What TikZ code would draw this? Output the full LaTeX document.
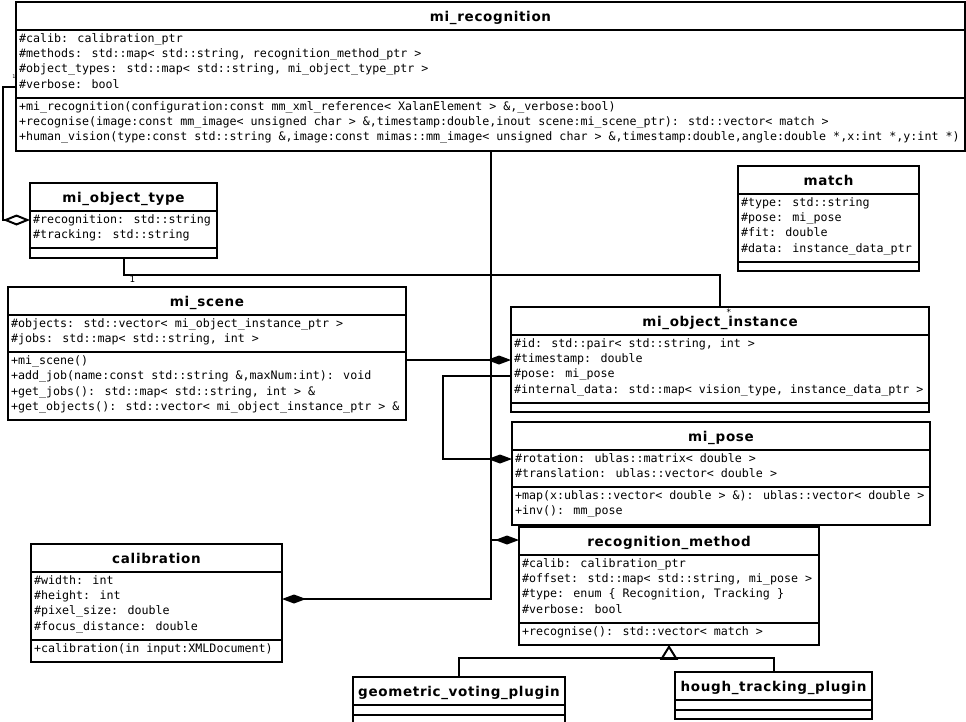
\documentclass[tikz,border=0pt]{standalone}
\usepackage{fontspec}
\usepackage{tikz}
\usetikzlibrary{shapes.multipart, arrows.meta, positioning}

\newfontfamily\umlbody{DejaVu Sans Mono}
\newfontfamily\umltitle[LetterSpace=5]{DejaVu Sans}
\newcommand{\ttl}[1]{{\fontsize{13.5bp}{16bp}\umltitle\bfseries\rule[-4bp]{0pt}{18.5bp}\smash{#1}}}
\newcommand{\rw}[1]{\makebox[0pt][l]{\rule[-5bp]{0pt}{12.5bp}\smash{#1}}}
\newcommand{\nix}{\rule{0pt}{0.01bp}}

\tikzset{
    umlclass/.style={rectangle split, rectangle split parts=3, draw, fill=white,
        line width=2bp, outer sep=0pt, anchor=north west,
        rectangle split part align={center,left,left}, align=left,
        inner xsep=3bp, inner ysep=3.75bp,
        rectangle split empty part height=0pt, rectangle split empty part depth=0pt,
        rectangle split empty part width=0pt,
        font=\fontsize{11.66bp}{15.3bp}\umlbody},
    comp/.style={line width=2bp, -{Diamond[length=24bp,width=9bp]}},
    agg/.style={line width=2bp, -{Diamond[open,length=27bp,width=11bp]}},
    gen/.style={line width=2bp, -{Triangle[open,length=15bp,width=18bp]}},
    mult/.style={font=\fontsize{9bp}{9bp}\umlbody, inner sep=1bp},
    tinymult/.style={font=\fontsize{5bp}{5bp}\umlbody, inner sep=0pt}
}

\begin{document}
\begin{tikzpicture}[x=1bp, y=-1bp]
    \fill[white] (0,0) rectangle (966,722);
    \useasboundingbox (0,0) rectangle (966,722);

    \node[umlclass, minimum width=949bp] (recog) at (16,2) {\ttl{mi\_recognition}
        \nodepart{second}
        \rw{\#calib: calibration\_ptr}\\
        \rw{\#methods: std::map< std::string, recognition\_method\_ptr >}\\
        \rw{\#object\_types: std::map< std::string, mi\_object\_type\_ptr >}\\
        \rw{\#verbose: bool}
        \nodepart{third}
        \rw{+mi\_recognition(configuration:const mm\_xml\_reference< XalanElement > \&,\_verbose:bool)}\\
        \rw{+recognise(image:const mm\_image< unsigned char > \&,timestamp:double,inout scene:mi\_scene\_ptr): std::vector< match >}\\
        \rw{+human\_vision(type:const std::string \&,image:const mimas::mm\_image< unsigned char > \&,timestamp:double,angle:double *,x:int *,y:int *)}};
    \node[umlclass, minimum width=187bp] (otype) at (30,183) {\ttl{mi\_object\_type}
        \nodepart{second}
        \rw{\#recognition: std::string}\\
        \rw{\#tracking: std::string}
        \nodepart{third}\nix};
    \node[umlclass, minimum width=181bp] (match) at (738,166) {\ttl{match}
        \nodepart{second}
        \rw{\#type: std::string}\\
        \rw{\#pose: mi\_pose}\\
        \rw{\#fit: double}\\
        \rw{\#data: instance\_data\_ptr}
        \nodepart{third}\nix};
    \node[umlclass, minimum width=398bp] (scene) at (8,287) {\ttl{mi\_scene}
        \nodepart{second}
        \rw{\#objects: std::vector< mi\_object\_instance\_ptr >}\\
        \rw{\#jobs: std::map< std::string, int >}
        \nodepart{third}
        \rw{+mi\_scene()}\\
        \rw{+add\_job(name:const std::string \&,maxNum:int): void}\\
        \rw{+get\_jobs(): std::map< std::string, int > \&}\\
        \rw{+get\_objects(): std::vector< mi\_object\_instance\_ptr > \&}};
    \node[umlclass, minimum width=418bp] (inst) at (511,307) {\ttl{mi\_object\_instance}
        \nodepart{second}
        \rw{\#id: std::pair< std::string, int >}\\
        \rw{\#timestamp: double}\\
        \rw{\#pose: mi\_pose}\\
        \rw{\#internal\_data: std::map< vision\_type, instance\_data\_ptr >}
        \nodepart{third}\nix};
    \node[umlclass, minimum width=418bp] (pose) at (512,422) {\ttl{mi\_pose}
        \nodepart{second}
        \rw{\#rotation: ublas::matrix< double >}\\
        \rw{\#translation: ublas::vector< double >}
        \nodepart{third}
        \rw{+map(x:ublas::vector< double > \&): ublas::vector< double >}\\
        \rw{+inv(): mm\_pose}};
    \node[umlclass, minimum width=300bp] (method) at (519,527) {\ttl{recognition\_method}
        \nodepart{second}
        \rw{\#calib: calibration\_ptr}\\
        \rw{\#offset: std::map< std::string, mi\_pose >}\\
        \rw{\#type: enum \{ Recognition, Tracking \}}\\
        \rw{\#verbose: bool}
        \nodepart{third}
        \rw{+recognise(): std::vector< match >}};
    \node[umlclass, minimum width=251bp] (calib) at (31,544) {\ttl{calibration}
        \nodepart{second}
        \rw{\#width: int}\\
        \rw{\#height: int}\\
        \rw{\#pixel\_size: double}\\
        \rw{\#focus\_distance: double}
        \nodepart{third}
        \rw{+calibration(in input:XMLDocument)}};
    \node[umlclass, minimum width=212bp] (geom) at (353,677) {\ttl{geometric\_voting\_plugin}
        \nodepart{second}\nix
        \nodepart{third}\nix};
    \node[umlclass, minimum width=197bp] (hough) at (675,672) {\ttl{hough\_tracking\_plugin}
        \nodepart{second}\nix
        \nodepart{third}\nix};

    \coordinate (recog out) at ([yshift=-85bp]recog.north west);
    \draw[agg] (recog out) -- ++(-13,0) |- ([yshift=-37bp]otype.north west);
    \node[tinymult] (recog one) at (14,77) {1};
    \node[tinymult] (otype star) at (3,213) {*};
    \draw[line width=2bp] (otype.south) -- ++(0,17) node[mult, below right, xshift=4bp, yshift=1bp] {1}
        -| (inst.north) node[mult, below right, xshift=4bp] {*};
    \coordinate (scene out) at ([yshift=-73bp]scene.north east);
    \draw[comp] (scene out) -- (scene out -| inst.west);
    \draw[comp] ([yshift=-69bp]inst.north west) -- ++(-68,0) |- ([yshift=-37bp]pose.north west);
    \coordinate (calib in) at ([yshift=-55bp]calib.north east);
    \draw[comp] (recog.south) |- (calib in);
    \coordinate (method in) at ([yshift=-13bp]method.north west);
    \draw[comp] (recog.south |- method in) -- (method in);
    \draw[line width=2bp] (geom.north) -- ++(0,-19) coordinate (gen mid) -| (hough.north);
    \draw[gen] (gen mid -| method.south) -- (method.south);
\end{tikzpicture}
\end{document}
